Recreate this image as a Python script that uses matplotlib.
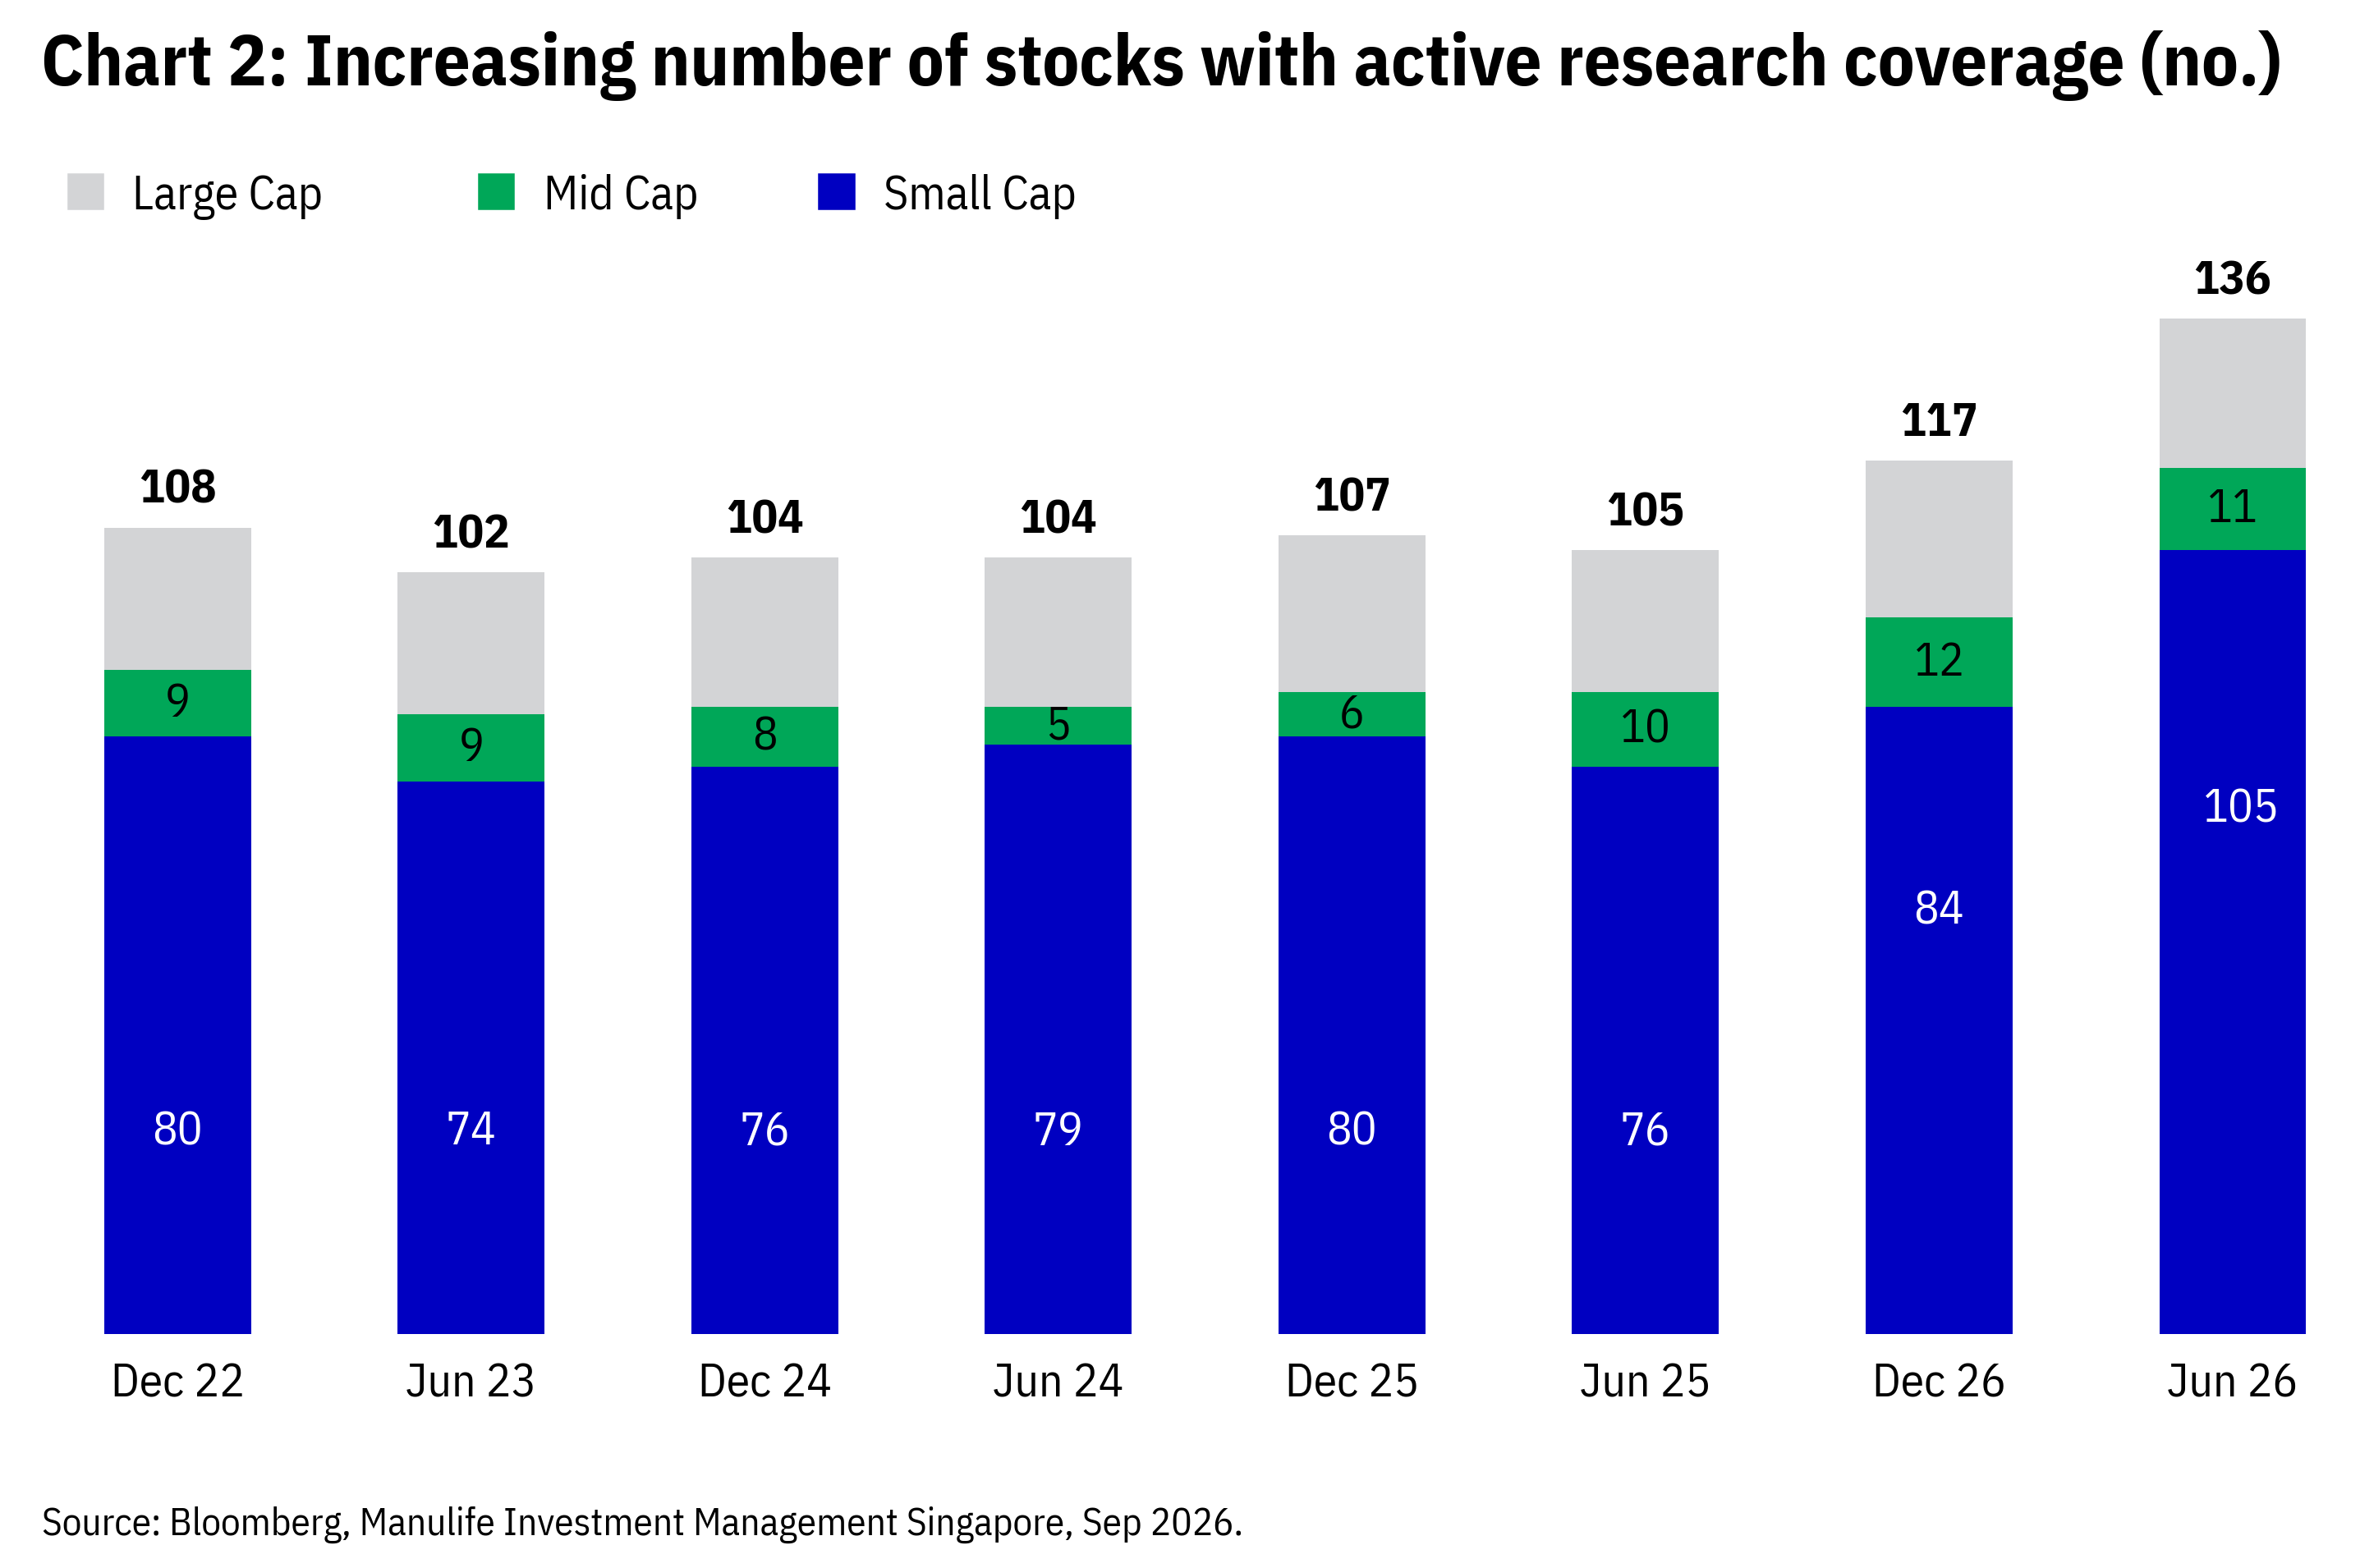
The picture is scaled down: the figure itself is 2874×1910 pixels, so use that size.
import matplotlib
matplotlib.use("Agg")
import matplotlib.pyplot as plt
from matplotlib.patches import Rectangle

# data
periods = ["Dec 22", "Jun 23", "Dec 24", "Jun 24", "Dec 25", "Jun 25", "Dec 26", "Jun 26"]
small_cap = [80, 74, 76, 79, 80, 76, 84, 105]
mid_cap = [9, 9, 8, 5, 6, 10, 12, 11]
totals = [108, 102, 104, 104, 107, 105, 117, 136]
large_cap = [t - s - m for t, s, m in zip(totals, small_cap, mid_cap)]

series_names = ["Large Cap", "Mid Cap", "Small Cap"]
colors = {"Large Cap": "#D3D4D6", "Mid Cap": "#00A758", "Small Cap": "#0000C1"}

# where the white labels sit inside the blue bars (fraction of bar height)
small_label_frac = [0.34, 0.368, 0.358, 0.344, 0.34, 0.358, 0.676, 0.67]

plt.rcParams["font.family"] = ["IBM Plex Sans Condensed", "DejaVu Sans"]

# layout worked out on a 1568 px wide copy of the reference
W, H = 1568.0, 1042.2
DPI = 183.35
fig = plt.figure(figsize=(W / 100, H / 100), dpi=DPI)
ax = fig.add_axes([60 / W, 1 - 887 / H, (1542 - 60) / W, 744.5 / H])

x = range(len(periods))
bw = 0.5
ax.bar(x, small_cap, width=bw, color=colors["Small Cap"])
ax.bar(x, mid_cap, width=bw, bottom=small_cap, color=colors["Mid Cap"])
base = [s + m for s, m in zip(small_cap, mid_cap)]
ax.bar(x, large_cap, width=bw, bottom=base, color=colors["Large Cap"])

for i in x:
    dx = 0.03 if small_cap[i] >= 100 else 0
    ax.text(i + dx, small_cap[i] * small_label_frac[i], str(small_cap[i]), ha="center", va="center",
            color="white", fontsize=22.5)
    ax.text(i, small_cap[i] + mid_cap[i] / 2, str(mid_cap[i]), ha="center", va="center",
            color="black", fontsize=22.5)
    ax.annotate(str(totals[i]), (i, totals[i]), xytext=(0, 12), textcoords="offset points",
                ha="center", va="baseline", fontsize=23, fontweight="bold")

ax.set_xlim(-0.297, 7.303)
ax.set_ylim(0, 150)
ax.set_xticks(list(x))
ax.set_xticklabels(periods, fontsize=22.5)
ax.tick_params(axis="x", length=0, pad=13)
ax.set_yticks([])
for sp in ax.spines.values():
    sp.set_visible(False)

fig.text(27 / W, 1 - 56.5 / H, "Chart 2: Increasing number of stocks with active research coverage (no.)",
         ha="left", va="baseline", fontsize=34.8, fontweight="bold")

# legend
leg_x = [45, 318, 544]
for name, lx in zip(series_names, leg_x):
    fig.patches.append(Rectangle((lx / W, 1 - 139 / H), 23 / W, 23 / H, transform=fig.transFigure,
                                 color=colors[name]))
    fig.text((lx + 43) / W, 1 - 139 / H, name, ha="left", va="baseline", fontsize=22.7)

fig.text(28 / W, 1 - 1020 / H, "Source: Bloomberg, Manulife Investment Management Singapore, Sep 2026.",
         ha="left", va="baseline", fontsize=18.5)

fig.savefig("out.png", dpi=DPI)
